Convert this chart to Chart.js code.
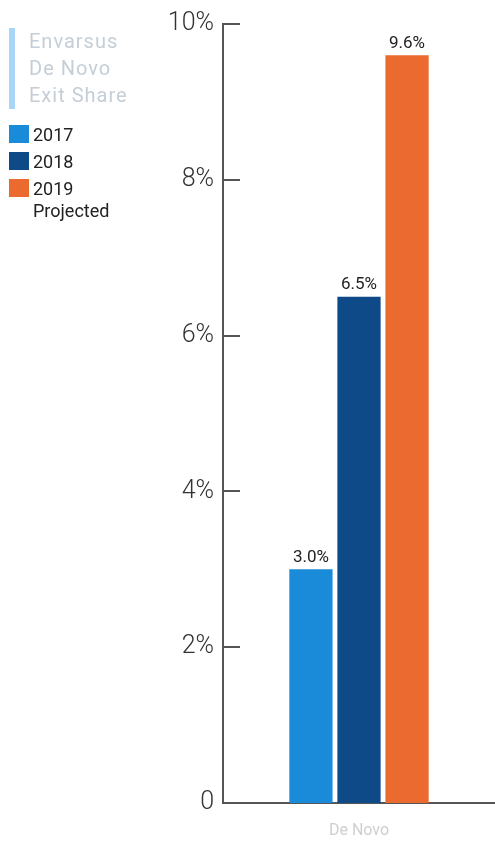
<!DOCTYPE html>
<html lang="en">
<head>
<meta charset="UTF-8">
<title>Envarsus De Novo Exit Share</title>
<script src="https://cdn.jsdelivr.net/npm/chart.js@4.4.0/dist/chart.umd.min.js"></script>
<style>
  html, body { margin: 0; padding: 0; background: #fff; }
  body { width: 495px; height: 841px; position: relative; overflow: hidden; font-family: Roboto, sans-serif; }
  #wrap { position: absolute; left: 0; top: 0; width: 495px; height: 841px; }
  .legend { position: absolute; left: 9px; top: 28px; }
  .legend-title { border-left: 6px solid #a9d5f6; padding-left: 14px; color: #c5ced7; font-size: 20px; line-height: 27px; letter-spacing: 1px; }
  .legend-item { display: flex; align-items: flex-start; font-size: 18px; line-height: 22px; color: #222; margin-top: 5px; }
  .legend-item .sw { width: 20px; height: 18px; margin-right: 4px; margin-top: 1px; flex: none; }
  .legend-items { margin-top: 15px; }
</style>
</head>
<body>
<div id="wrap"><canvas id="chart" width="495" height="841"></canvas></div>
<div class="legend">
  <div class="legend-title">Envarsus<br>De Novo<br>Exit Share</div>
  <div class="legend-items" id="legend-items"></div>
</div>
<script>
const categories = ['De Novo'];
const seriesNames = ['2017', '2018', '2019'];
const seriesLegend = ['2017', '2018', '2019<br>Projected'];
const values2017 = [3.0];
const values2018 = [6.5];
const values2019 = [9.6];
const seriesColors = ['#1a8bd9', '#0e4a88', '#ea6a30'];
const yTicks = [0, 2, 4, 6, 8, 10];

const legendBox = document.getElementById('legend-items');
seriesLegend.forEach((name, i) => {
  const item = document.createElement('div');
  item.className = 'legend-item';
  item.innerHTML = '<span class="sw" style="background:' + seriesColors[i] + '"></span><span>' + name + '</span>';
  legendBox.appendChild(item);
});

// value labels above bars
const valueLabels = {
  id: 'valueLabels',
  afterDatasetsDraw(chart) {
    const ctx = chart.ctx;
    ctx.save();
    ctx.font = '17px Roboto';
    ctx.fillStyle = '#222';
    ctx.textAlign = 'center';
    ctx.textBaseline = 'bottom';
    chart.data.datasets.forEach((ds, i) => {
      chart.getDatasetMeta(i).data.forEach((bar, j) => {
        ctx.fillText(ds.data[j].toFixed(1) + '%', bar.x, bar.y - 3);
      });
    });
    ctx.restore();
  }
};

// small tick marks pointing into the plot area
const innerTicks = {
  id: 'innerTicks',
  afterDraw(chart) {
    const ctx = chart.ctx;
    const y = chart.scales.y;
    ctx.save();
    ctx.strokeStyle = '#555';
    ctx.lineWidth = 2;
    yTicks.forEach(v => {
      if (v === 0) return;
      const py = Math.round(y.getPixelForValue(v));
      ctx.beginPath();
      ctx.moveTo(y.right, py);
      ctx.lineTo(y.right + 17, py);
      ctx.stroke();
    });
    ctx.restore();
  }
};

new Chart(document.getElementById('chart'), {
  type: 'bar',
  data: {
    labels: categories,
    datasets: [
      { label: seriesNames[0], data: values2017, backgroundColor: seriesColors[0] },
      { label: seriesNames[1], data: values2018, backgroundColor: seriesColors[1] },
      { label: seriesNames[2], data: values2019, backgroundColor: seriesColors[2] }
    ]
  },
  options: {
    responsive: false,
    animation: false,
    categoryPercentage: 0.53,
    barPercentage: 0.9,
    layout: { padding: { top: 20, right: 0, bottom: 0, left: 0 } },
    plugins: { legend: { display: false }, tooltip: { enabled: false } },
    scales: {
      x: {
        afterFit(scale) { scale.height = 38; },
        grid: { display: false },
        border: { color: '#555', width: 2 },
        ticks: { color: '#cfcfcf', font: { family: 'Roboto', size: 16 }, padding: 10 }
      },
      y: {
        min: 0, max: 10,
        afterFit(scale) { scale.width = 223; },
        afterBuildTicks(scale) { scale.ticks = yTicks.map(v => ({ value: v })); },
        grid: { display: false, drawTicks: false },
        border: { color: '#555', width: 2 },
        ticks: {
          color: '#333',
          font: { family: 'Roboto', size: 25, weight: '300' },
          padding: 9,
          callback: v => v === 0 ? '0' : v + '%'
        }
      }
    }
  },
  plugins: [valueLabels, innerTicks]
});
</script>
</body>
</html>
